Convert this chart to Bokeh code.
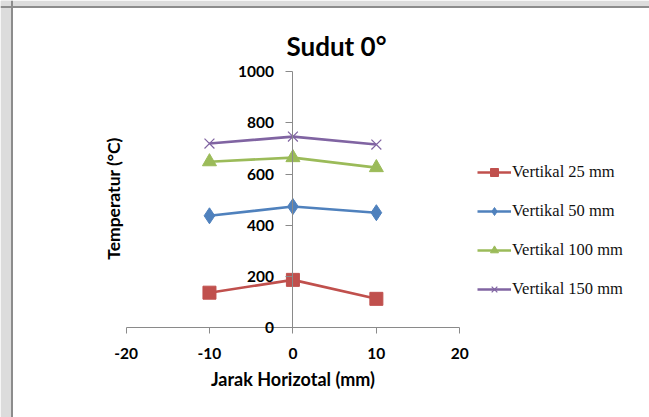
import math
from bokeh.plotting import figure
from bokeh.models import (LinearAxis, FixedTicker, Legend, LegendItem, Range1d,
                          Label, BoxAnnotation, Span)
from bokeh.embed import file_html
from bokeh.resources import INLINE

# Horizontal distance (mm) and measured temperatures (°C) per vertical position
jarak = [-10, 0, 10]
vertikal_25 = [137, 187, 113]
vertikal_50 = [437, 473, 449]
vertikal_100 = [648, 664, 625]
vertikal_150 = [719, 746, 715]

x_ticks = [-20, -10, 0, 10, 20]
y_ticks = [0, 200, 400, 600, 800, 1000]

series = [
    ("Vertikal 25 mm", vertikal_25, "#C0504D", "square", 13),
    ("Vertikal 50 mm", vertikal_50, "#4F81BD", "diamond", 16),
    ("Vertikal 100 mm", vertikal_100, "#9BBB59", "triangle", 14),
    ("Vertikal 150 mm", vertikal_150, "#8064A2", "x", 14),
]

W, H = 649, 417
# the plotting frame fills the whole canvas; axes cross inside it
X_START, X_END = -35.04, 42.73
Y_START, Y_END = -350.0, 1277.0


def px_x(px):
    return X_START + px / W * (X_END - X_START)


def px_y(py):
    return Y_END - py / H * (Y_END - Y_START)


p = figure(width=W, height=H, output_backend="svg", toolbar_location=None,
           x_range=Range1d(X_START, X_END), y_range=Range1d(Y_START, Y_END),
           x_axis_location=None, y_axis_location=None,
           min_border=0, min_border_left=0, min_border_right=0,
           min_border_top=0, min_border_bottom=0)
p.background_fill_color = "white"
p.border_fill_color = "white"
p.outline_line_color = None
p.xgrid.visible = False
p.ygrid.visible = False

# page margin around the chart box
p.add_layout(BoxAnnotation(right=px_x(10.5), fill_color="#dcdcdc", fill_alpha=1,
                           line_color=None, level="underlay"))
p.add_layout(BoxAnnotation(bottom=px_y(5.5), fill_color="#dcdcdc", fill_alpha=1,
                           line_color=None, level="underlay"))
p.add_layout(Span(location=px_x(11.5), dimension="height", line_color="#8c8c8c",
                  line_width=2))
p.add_layout(Span(location=px_y(6.5), dimension="width", line_color="#8c8c8c",
                  line_width=2))

font = "Lato"
axis_grey = "#8a8a8a"

xa = LinearAxis(fixed_location=0, bounds=(x_ticks[0], x_ticks[-1]),
                ticker=FixedTicker(ticks=x_ticks),
                major_label_overrides={t: str(t) for t in x_ticks})
xa.axis_label = "Jarak Horizotal (mm)"
xa.axis_label_text_font = font
xa.axis_label_text_font_style = "bold"
xa.axis_label_text_font_size = "18px"
xa.axis_label_text_color = "black"
xa.axis_label_standoff = 6
xa.major_label_text_font = font
xa.major_label_text_font_style = "bold"
xa.major_label_text_font_size = "15.5px"
xa.major_label_text_color = "black"
xa.major_label_standoff = 14
xa.axis_line_color = axis_grey
xa.major_tick_line_color = axis_grey
xa.major_tick_out = 6
xa.major_tick_in = 0
xa.minor_tick_line_color = None
p.add_layout(xa, "below")

ya = LinearAxis(fixed_location=0, bounds=(y_ticks[0], y_ticks[-1]),
                ticker=FixedTicker(ticks=y_ticks))
ya.major_label_text_font = font
ya.major_label_text_font_style = "bold"
ya.major_label_text_font_size = "15.5px"
ya.major_label_text_color = "black"
ya.major_label_standoff = 12
ya.axis_line_color = axis_grey
ya.major_tick_line_color = axis_grey
ya.major_tick_out = 7
ya.major_tick_in = 0
ya.minor_tick_line_color = None
p.add_layout(ya, "left")

p.add_layout(Label(x=px_x(336), y=px_y(45), text="Sudut 0°", text_font=font,
                   text_font_style="bold", text_font_size="26px",
                   text_color="black", text_align="center",
                   text_baseline="alphabetic"))
p.add_layout(Label(x=px_x(113), y=px_y(198), text="Temperatur (°C)",
                   angle=math.pi / 2, text_font=font, text_font_style="bold",
                   text_font_size="17.5px", text_color="black",
                   text_align="center", text_baseline="middle"))

items = []
for name, vals, color, marker, size in series:
    r1 = p.line(jarak, vals, line_color=color, line_width=2.6)
    if marker == "x":
        r2 = p.scatter(jarak, vals, marker=marker, size=size, line_color=color,
                       line_width=1.2)
    else:
        r2 = p.scatter(jarak, vals, marker=marker, size=size, fill_color=color,
                       line_color=color)
    items.append(LegendItem(label=name, renderers=[r1, r2]))

legend = Legend(items=items, location=(477, H - 299))
legend.label_text_font = "Liberation Serif"
legend.label_text_font_size = "16.5px"
legend.label_text_color = "#111111"
legend.glyph_width = 34
legend.glyph_height = 20
legend.label_height = 20
legend.label_standoff = 1
legend.spacing = 19
legend.padding = 0
legend.margin = 0
legend.border_line_color = None
legend.background_fill_alpha = 0
p.add_layout(legend)

open("out.html", "w").write(file_html(p, INLINE))
